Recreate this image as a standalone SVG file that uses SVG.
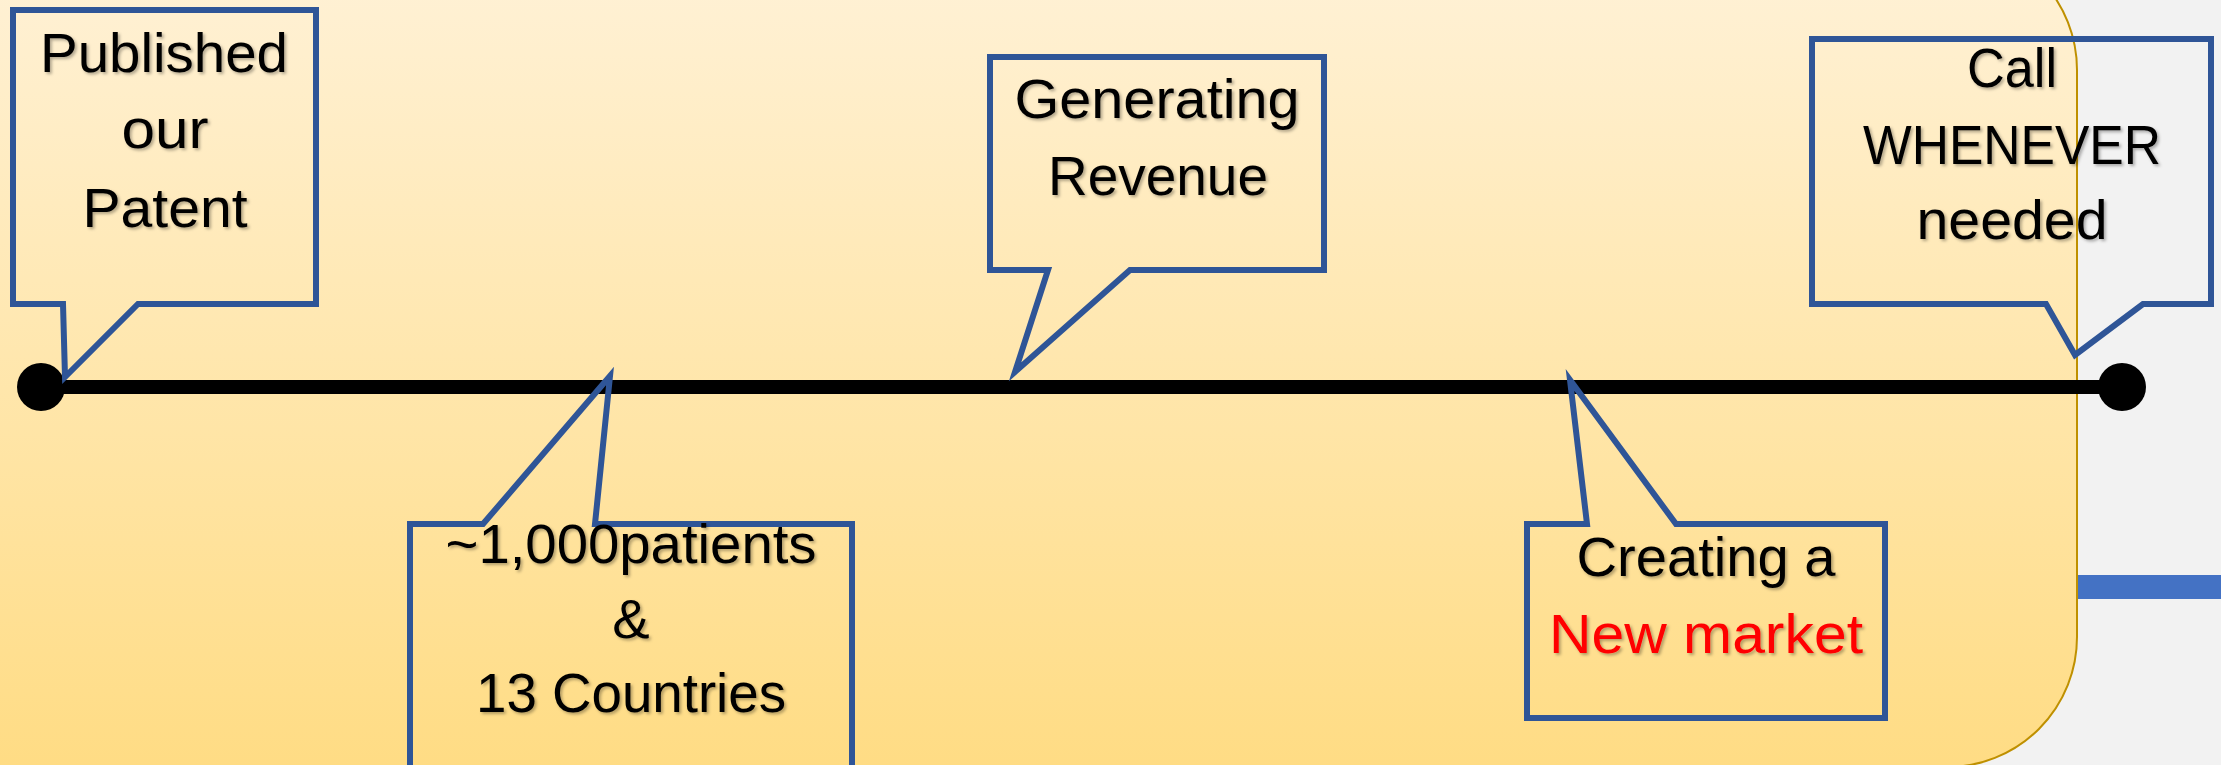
<svg xmlns="http://www.w3.org/2000/svg" width="2221" height="765" viewBox="0 0 2221 765">
<defs>
<linearGradient id="bg" x1="0" y1="0" x2="0" y2="1">
<stop offset="0" stop-color="#FFF2D9"/>
<stop offset="1" stop-color="#FFDC84"/>
</linearGradient>
<filter id="sh" x="-10%" y="-10%" width="120%" height="130%">
<feDropShadow dx="2" dy="2" stdDeviation="1.5" flood-color="#000" flood-opacity="0.3"/>
</filter>
</defs>
<style>
.callout{fill:none;stroke:#2F5597;stroke-width:6;stroke-linejoin:miter}
.t{font-family:"Liberation Sans",Arial,sans-serif;font-size:56px;fill:#000;text-anchor:middle;filter:url(#sh)}
.red{fill:#FF0000}
</style>
<rect x="0" y="0" width="2221" height="765" fill="#F2F2F2"/>
<rect x="2077" y="575" width="144" height="24" fill="#4472C4"/>
<rect id="panel" x="-400" y="-60" width="2477" height="827" rx="130" ry="130" fill="url(#bg)" stroke="#BF9000" stroke-width="2"/>
<g id="connectors">
<line x1="41" y1="387" x2="2122" y2="387" stroke="#000" stroke-width="14"/>
<circle cx="41" cy="387" r="24" fill="#000"/>
<circle cx="2122" cy="387" r="24" fill="#000"/>
</g>
<g id="published">
<path class="callout" d="M13,10 H316 V304 H138 L65,377 L63,304 H13 Z"/>
<text class="t" x="164" y="72" textLength="248" lengthAdjust="spacingAndGlyphs">Published</text>
<text class="t" x="165" y="148" textLength="87" lengthAdjust="spacingAndGlyphs">our</text>
<text class="t" x="165" y="227" textLength="165" lengthAdjust="spacingAndGlyphs">Patent</text>
</g>
<g id="patients">
<path class="callout" d="M410,524 H483 L610,376 L595,524 H852 V800 H410 Z"/>
<text class="t" x="631" y="563" textLength="371" lengthAdjust="spacingAndGlyphs">~1,000patients</text>
<text class="t" x="631" y="638">&amp;</text>
<text class="t" x="631" y="712" textLength="310" lengthAdjust="spacingAndGlyphs">13 Countries</text>
</g>
<g id="revenue">
<path class="callout" d="M990,57 H1324 V270 H1130 L1015,372 L1048,270 H990 Z"/>
<text class="t" x="1157" y="118" textLength="285" lengthAdjust="spacingAndGlyphs">Generating</text>
<text class="t" x="1158" y="195" textLength="220" lengthAdjust="spacingAndGlyphs">Revenue</text>
</g>
<g id="market">
<path class="callout" d="M1527,524 H1587 L1570,380 L1676,524 H1885 V718 H1527 Z"/>
<text class="t" x="1706" y="576" textLength="259" lengthAdjust="spacingAndGlyphs">Creating a</text>
<text class="t red" x="1706" y="653" textLength="314" lengthAdjust="spacingAndGlyphs">New market</text>
</g>
<g id="call">
<path class="callout" d="M1812,39 H2211 V304 H2143 L2075,355 L2046,304 H1812 Z"/>
<text class="t" x="2012" y="87" textLength="90" lengthAdjust="spacingAndGlyphs">Call</text>
<text class="t" x="2012" y="164" textLength="298" lengthAdjust="spacingAndGlyphs">WHENEVER</text>
<text class="t" x="2012" y="239" textLength="191" lengthAdjust="spacingAndGlyphs">needed</text>
</g>
</svg>
